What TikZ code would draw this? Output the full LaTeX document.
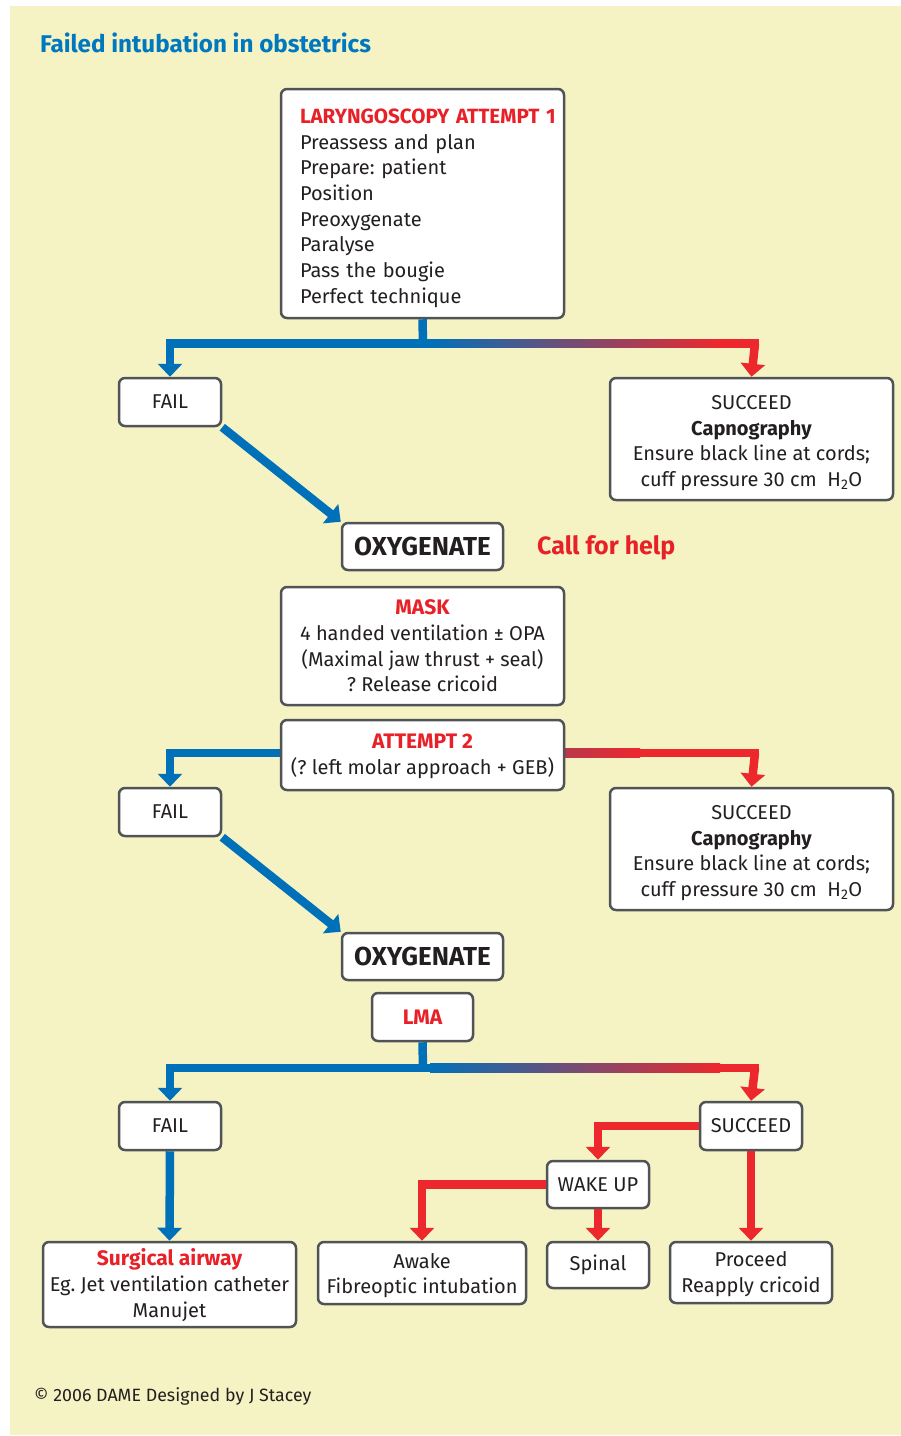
\documentclass[tikz,border=0pt]{standalone}
\usepackage{fontspec}
\setmainfont{Fira Sans}
\usetikzlibrary{arrows.meta}
\frenchspacing
\definecolor{bg}{RGB}{245,242,196}
\definecolor{fblue}{RGB}{0,112,185}
\definecolor{fred}{RGB}{237,40,45}
\definecolor{tred}{RGB}{232,32,40}
\definecolor{tblue}{RGB}{0,120,192}
\definecolor{bgray}{RGB}{80,84,86}
\definecolor{tdark}{RGB}{35,31,32}
\newcommand\hd[2][21]{\textcolor{tred}{\fontsize{#1}{25.7}\selectfont\bfseries #2}}
\newcommand\tstrut[1]{\rule{0pt}{#1}}
\tikzset{
  box/.style={draw=bgray, line width=2.5pt, rounded corners=6pt, fill=white, inner sep=0pt,
    text=tdark, font=\fontsize{20}{25.7}\selectfont, align=center},
  bigbox/.style={box, font=\fontsize{26}{30}\selectfont\bfseries},
  tip/.style={-{Triangle[width=24pt,length=13pt]}},
  bline/.style={draw=fblue, line width=8.5pt},
  rline/.style={draw=fred, line width=8.5pt},
}
\begin{document}
\begin{tikzpicture}[x=1pt,y=-1pt]
\useasboundingbox (0,0) rectangle (901,1436);
\fill[white] (0,0) rectangle (901,1436);
\fill[bg] (10,6) rectangle (901,1435);

% title
\node[anchor=west, inner sep=0pt, text=tblue, font=\fontsize{24.2}{30}\selectfont\bfseries] (title) at (40,43) {Failed intubation in obstetrics};

% ---------- coordinates for junctions
\coordinate (j1) at (423,343.5);
\coordinate (j1L) at (170,343.5);
\coordinate (j1R) at (755,343.5);
\coordinate (j2L) at (170,753);
\coordinate (j2R) at (755,753);
\coordinate (j3) at (423,1068);
\coordinate (j3L) at (170,1068);
\coordinate (j3R) at (755,1068);

% gradient bars
\fill[fblue] (165.75,339.25) rectangle (430,347.75);
\shade[left color=fblue, right color=fred] (430,339.25) rectangle (720,347.75);
\fill[fred] (720,339.25) rectangle (759.25,347.75);

\fill[fblue] (165.75,748.75) rectangle (300,757.25);
\shade[left color=fblue, right color=fred] (300,748.75) rectangle (640,757.25);
\fill[fred] (640,748.75) rectangle (759.25,757.25);

\fill[fblue] (165.75,1063.75) rectangle (430,1072.25);
\shade[left color=fblue, right color=fred] (430,1063.75) rectangle (720,1072.25);
\fill[fred] (720,1063.75) rectangle (759.25,1072.25);

% ---------- boxes
\node[box, align=left, text width=245pt, minimum width=283pt, minimum height=229pt] (l1) at (422.5,203.5)
 {\tstrut{24pt}\hd[20.6]{\mbox{LARYNGOSCOPY ATTEMPT 1}}\\Preassess and plan\\Prepare: patient\\Position\\Preoxygenate\\Paralyse\\Pass the bougie\\Perfect technique};

\node[box, minimum width=102pt, minimum height=48pt] (fail1) at (170,402) {FAIL};
\node[box, minimum width=283pt, minimum height=122pt] (suc1) at (751.5,439)
 {\tstrut{22pt}SUCCEED\\\textbf{Capnography}\\Ensure black line at cords;\\cuff pressure 30 cm~~H\textsubscript{2}O};

\node[bigbox, minimum width=161pt, minimum height=47pt] (oxy1) at (422.5,546.5) {OXYGENATE};
\node[anchor=west, inner sep=0pt, text=tred, font=\fontsize{25}{30}\selectfont\bfseries] (help) at (537,548) {Call for help};

\node[box, minimum width=283pt, minimum height=118pt] (mask) at (422.5,646)
 {\hd{MASK}\\4 handed ventilation ± OPA\\(Maximal jaw thrust + seal)\\? Release cricoid};

\node[box, minimum width=283pt, minimum height=70pt] (att2) at (422.5,755)
 {\tstrut{17pt}\hd{ATTEMPT 2}\\(? left molar approach + GEB)};

\node[box, minimum width=102pt, minimum height=48pt] (fail2) at (170,812) {FAIL};
\node[box, minimum width=283pt, minimum height=122pt] (suc2) at (751.5,849)
 {\tstrut{22pt}SUCCEED\\\textbf{Capnography}\\Ensure black line at cords;\\cuff pressure 30 cm~~H\textsubscript{2}O};

\node[bigbox, minimum width=161pt, minimum height=47pt] (oxy2) at (422.5,956.5) {OXYGENATE};

\node[box, minimum width=101pt, minimum height=48pt] (lma) at (422.5,1017) {\hd{LMA}};

\node[box, minimum width=102pt, minimum height=48pt] (fail3) at (170,1126) {FAIL};
\node[box, minimum width=102pt, minimum height=48pt] (suc3) at (751,1126) {SUCCEED};
\node[box, minimum width=102pt, minimum height=47pt] (wake) at (598,1184.5) {WAKE UP};

\node[box, minimum width=253pt, minimum height=85pt] (surg) at (169.5,1284.5)
 {\tstrut{18.5pt}\hd{Surgical airway}\\Eg. Jet ventilation catheter\\Manujet};
\node[box, minimum width=208pt, minimum height=62pt] (awake) at (422,1273) {\tstrut{20pt}Awake\\Fibreoptic intubation};
\node[box, minimum width=102pt, minimum height=46pt] (spinal) at (598,1265) {Spinal};
\node[box, minimum width=162pt, minimum height=61pt] (proc) at (751,1272.5) {\tstrut{18.5pt}Proceed\\Reapply cricoid};

\node[anchor=west, inner sep=0pt, text=tdark, font=\fontsize{17.8}{20}\selectfont] (copy) at (34,1396) {© 2006 DAME Designed by J Stacey};

% ---------- connectors
\draw[bline] (l1.south) -- (j1);
\draw[bline, tip] (j1L) -- (fail1.north);
\draw[rline, tip] (j1R) -- (suc1.north);
\draw[bline, tip] (fail1.south east) -- (oxy1.north west);

\draw[bline, tip] (j2L) -- (fail2.north);
\draw[rline, tip] (j2R) -- (suc2.north);
\draw[bline, tip] (fail2.south east) -- (oxy2.north west);

\draw[bline] (lma.south) -- (j3);
\draw[bline, tip] (j3L) -- (fail3.north);
\draw[rline, tip] (j3R) -- (suc3.north);

\draw[bline, tip] (fail3.south) -- (surg.north);
\draw[rline, tip] (suc3.south) -- (proc.north);
\draw[rline, tip] (suc3.west) -| (wake.north);
\draw[rline, tip] (wake.west) -| (awake.north);
\draw[rline, tip] (wake.south) -- (spinal.north);

\end{tikzpicture}
\end{document}
